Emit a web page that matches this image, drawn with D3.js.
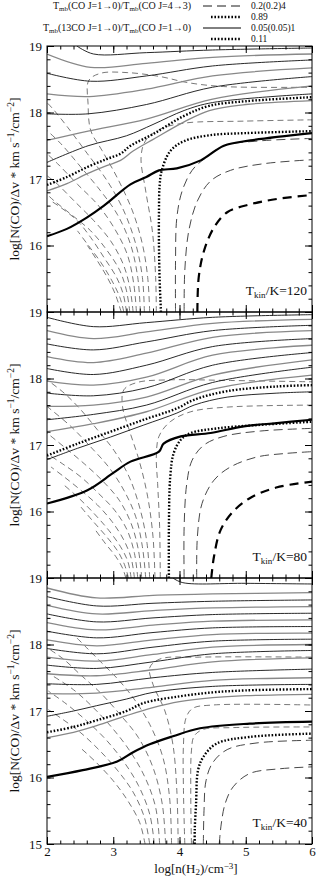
<!DOCTYPE html>
<html>
<head>
<meta charset="utf-8">
<script src="https://cdn.jsdelivr.net/npm/d3@7"></script>
<style>
  body { margin: 0; background: #fff; }
  svg { display: block; }
  text { font-family: "Liberation Serif", "DejaVu Serif", serif; fill: #111; }
</style>
</head>
<body>
<svg id="chart"></svg>
<script>
// axis values
const xTicks = [2, 3, 4, 5, 6];
const yTicks = [15, 16, 17, 18, 19];
const temps = ['120', '80', '40'];

// ---- T_kin = 120 K ----
// 13CO/CO solid contours, top to bottom
const t120Solid = [
  [[2.45,19.0],[2.7,18.88],[3.5,18.9],[4.5,18.94],[6,18.97]],
  [[2,18.88],[2.66,18.68],[3.5,18.74],[4.5,18.83],[6,18.88]],
  [[2,18.59],[2.66,18.47],[3.5,18.55],[4.5,18.7],[6,18.79]],
  [[2,18.28],[2.64,18.24],[3.5,18.35],[4.5,18.55],[6,18.67]],
  [[2,17.98],[2.62,17.98],[3.5,18.12],[4.5,18.38],[6,18.54]],
  [[2,17.58],[2.62,17.72],[3.5,17.9],[4.5,18.2],[6,18.4]],
  [[2,17.25],[2.62,17.5],[3.2,17.65],[3.6,17.82],[4.07,18.03],[4.5,18.15],[6,18.28]],
  [[2,16.82],[2.3,16.93],[2.61,17.08],[2.9,17.2],[3.11,17.28],[3.3,17.42],[3.61,17.6],[4.07,17.86],[4.45,18.03],[5.0,18.12],[6,18.18]]
];
const t120Dot11 = [[2.0,16.91],[2.3,17.03],[2.61,17.18],[2.9,17.3],[3.11,17.38],[3.26,17.5],[3.61,17.68],[4.07,17.95],[4.45,18.1],[5.0,18.17],[6,18.23]];
const t120Bold = [[2,16.14],[2.3,16.25],[2.6,16.42],[2.86,16.6],[3.26,16.92],[3.5,17.03],[3.69,17.13],[3.96,17.16],[4.32,17.28],[4.67,17.5],[5.07,17.58],[6,17.69]];
// CO(1-0)/CO(4-3) contours
const t120Dot89 = [[3.72,15.0],[3.7,15.5],[3.69,16.0],[3.69,16.5],[3.7,16.9],[3.73,17.12],[3.86,17.42],[4.07,17.57],[4.47,17.66],[5.0,17.69],[6,17.72]];
const t120Fan = [
  [[3.65,15.0],[3.64,15.52],[3.59,16.22],[3.49,16.82],[3.42,17.33],[3.49,17.58],[3.71,17.75],[4.07,17.84],[4.97,17.87],[6,17.89]],
  [[3.55,15.0],[3.52,15.52],[3.44,16.02],[3.29,16.52],[3.06,17.02],[2.83,17.43],[2.66,17.73],[2.62,18.13],[2.63,18.48],[2.81,18.59],[3.21,18.6],[3.71,18.54],[4.12,18.45],[4.67,18.39],[6,18.38]],
  [[3.47,15.0],[3.44,15.52],[3.34,16.02],[3.16,16.52],[2.91,16.97],[2.61,17.38],[2.31,17.78],[2.11,18.03],[2.0,18.15]],
  [[3.41,15.0],[3.37,15.52],[3.26,16.02],[3.06,16.47],[2.81,16.82],[2.51,17.18],[2.21,17.53],[2.0,17.73]],
  [[3.35,15.0],[3.31,15.42],[3.21,15.87],[3.01,16.27],[2.76,16.62],[2.46,16.92],[2.16,17.23],[2.0,17.38]],
  [[3.3,15.0],[3.25,15.37],[3.15,15.72],[2.96,16.07],[2.71,16.37],[2.41,16.67],[2.16,16.92],[2.0,17.05]],
  [[3.25,15.0],[3.2,15.32],[3.1,15.62],[2.91,15.92],[2.66,16.22],[2.36,16.47],[2.11,16.67],[2.0,16.77]],
  [[3.2,15.0],[3.15,15.27],[3.05,15.52],[2.86,15.82],[2.66,16.12],[2.46,16.37],[2.21,16.57],[2.06,16.67]],
  [[3.16,15.0],[3.1,15.22],[2.98,15.47],[2.81,15.75],[2.61,16.02],[2.46,16.22]],
  [[3.12,15.0],[3.03,15.27],[2.91,15.52],[2.76,15.77],[2.61,16.0]]
];
const t120Low = [
  [[3.94,15.0],[3.94,15.77],[3.96,16.42],[4.04,16.82],[4.19,17.13],[4.37,17.3],[4.67,17.5],[5.17,17.57],[6,17.61]],
  [[4.07,15.0],[4.08,15.62],[4.14,16.22],[4.27,16.67],[4.47,16.97],[4.77,17.13],[5.27,17.23],[6,17.29]]
];
const t120BoldDash = [[4.27,15.0],[4.29,15.52],[4.37,15.92],[4.52,16.27],[4.72,16.5],[5.07,16.62],[5.47,16.7],[6,16.76]];

// ---- T_kin = 80 K ----
const t80Solid = [
  [[2,18.92],[2.7,18.78],[3.5,18.84],[4.5,18.92],[6,18.96]],
  [[2,18.72],[2.7,18.6],[3.5,18.7],[4.5,18.83],[6,18.89]],
  [[2,18.52],[2.7,18.43],[3.5,18.55],[4.5,18.72],[6,18.8]],
  [[2,18.33],[2.7,18.24],[3.5,18.38],[4.5,18.62],[6,18.72]],
  [[2,18.15],[2.7,18.06],[3.5,18.2],[4.5,18.48],[6,18.6]],
  [[2,17.96],[2.7,17.9],[3.5,18.02],[4.5,18.35],[6,18.5]],
  [[2,17.78],[2.7,17.74],[3.5,17.86],[4.5,18.2],[6,18.39]],
  [[2,17.58],[2.7,17.6],[3.5,17.72],[4.5,18.05],[6,18.28]],
  [[2,17.38],[2.7,17.46],[3.5,17.6],[4.5,17.94],[6,18.17]],
  [[2,17.2],[2.7,17.32],[3.5,17.5],[4.5,17.84],[6,18.05]],
  [[2,16.78],[2.46,16.95],[2.96,17.12],[3.46,17.3],[3.96,17.48],[4.22,17.6],[4.72,17.72],[5.47,17.78],[6,17.8]]
];
const t80Dot11 = [[2.0,16.84],[2.46,17.02],[2.96,17.2],[3.46,17.38],[3.96,17.55],[4.22,17.68],[4.72,17.81],[5.47,17.88],[6,17.9]];
const t80Bold = [[2.0,16.12],[2.61,16.32],[3.0,16.58],[3.26,16.75],[3.69,16.9],[3.76,17.02],[4.02,17.13],[4.47,17.18],[4.97,17.28],[5.47,17.33],[6,17.38]];
const t80Dot89 = [[3.84,15.0],[3.84,15.77],[3.86,16.52],[3.91,16.87],[4.02,17.08],[4.17,17.18],[4.57,17.25],[5.17,17.3],[6,17.35]];
const t80Fan = [
  [[3.71,15.0],[3.7,15.77],[3.67,16.42],[3.65,16.82],[3.69,17.13],[3.86,17.35],[4.17,17.5],[4.72,17.57],[6,17.6]],
  [[3.63,15.0],[3.6,15.62],[3.52,16.22],[3.39,16.77],[3.24,17.23],[3.14,17.58],[3.16,17.83],[3.36,17.94],[3.86,17.98],[4.77,17.97],[6,17.95]],
  [[3.55,15.0],[3.51,15.52],[3.41,16.02],[3.24,16.52],[3.01,16.92],[2.76,17.23],[2.51,17.53],[2.26,17.78],[2.0,17.98]],
  [[3.49,15.0],[3.44,15.47],[3.34,15.92],[3.16,16.32],[2.93,16.67],[2.66,16.97],[2.36,17.28],[2.0,17.58]],
  [[3.43,15.0],[3.38,15.42],[3.27,15.82],[3.09,16.17],[2.83,16.47],[2.56,16.72],[2.26,16.97],[2.0,17.18]],
  [[3.37,15.0],[3.32,15.37],[3.21,15.72],[3.02,16.02],[2.78,16.27],[2.51,16.52],[2.23,16.72],[2.0,16.87]],
  [[3.32,15.0],[3.27,15.3],[3.16,15.57],[2.98,15.85],[2.76,16.1],[2.51,16.32],[2.26,16.52],[2.06,16.67]],
  [[3.27,15.0],[3.22,15.25],[3.11,15.47],[2.93,15.72],[2.71,15.97],[2.46,16.22],[2.23,16.42]],
  [[3.23,15.0],[3.17,15.2],[3.07,15.4],[2.9,15.62],[2.68,15.87],[2.51,16.07]],
  [[3.19,15.0],[3.14,15.15],[3.04,15.32],[2.88,15.52],[2.71,15.75]]
];
const t80Low = [
  [[4.07,15.0],[4.07,15.77],[4.11,16.42],[4.19,16.77],[4.37,17.0],[4.67,17.13],[5.22,17.21],[6,17.25]],
  [[4.26,15.0],[4.27,15.62],[4.34,16.12],[4.52,16.47],[4.77,16.67],[5.17,16.82],[5.57,16.87],[6,16.9]]
];
const t80BoldDash = [[4.48,15.0],[4.52,15.32],[4.62,15.72],[4.81,16.0],[5.06,16.2],[5.46,16.36],[6,16.45]];

// ---- T_kin = 40 K ----
const t40Solid = [
  [[3.9,19.0],[4.05,18.93],[5,18.92],[6,18.91]],
  [[2,18.85],[2.75,18.7],[3.6,18.74],[4.5,18.76],[6,18.78]],
  [[2,18.72],[2.75,18.58],[3.6,18.62],[4.5,18.65],[6,18.67]],
  [[2,18.59],[2.75,18.46],[3.6,18.51],[4.5,18.55],[6,18.57]],
  [[2,18.46],[2.75,18.34],[3.6,18.4],[4.5,18.45],[6,18.47]],
  [[2,18.33],[2.75,18.22],[3.6,18.29],[4.5,18.35],[6,18.37]],
  [[2,18.2],[2.75,18.1],[3.6,18.18],[4.5,18.25],[6,18.27]],
  [[2,18.07],[2.75,17.98],[3.6,18.07],[4.5,18.15],[6,18.17]],
  [[2,17.94],[2.75,17.86],[3.6,17.96],[4.5,18.05],[6,18.08]],
  [[2,17.81],[2.75,17.75],[3.6,17.85],[4.5,17.96],[6,18.0]],
  [[2,17.69],[2.75,17.64],[3.6,17.74],[4.5,17.86],[6,17.91]],
  [[2,17.56],[2.75,17.53],[3.6,17.62],[4.5,17.74],[6,17.8]],
  [[2,17.41],[2.75,17.4],[3.6,17.5],[4.5,17.58],[6,17.63]],
  [[2,17.26],[2.75,17.27],[3.6,17.36],[4.5,17.46],[6,17.5]],
  [[2,16.92],[2.4,17.0],[2.75,17.08],[3.2,17.18],[3.6,17.28],[4.5,17.37],[6,17.4]],
  [[2,16.6],[2.4,16.68],[2.75,16.78],[3.2,16.93],[3.6,17.05],[4.0,17.14],[4.5,17.2],[5,17.23],[6,17.25]]
];
const t40Dot11 = [[2,16.68],[2.4,16.76],[2.75,16.86],[3.2,17.0],[3.46,17.12],[4.0,17.22],[4.5,17.28],[5,17.31],[6,17.33]];
const t40Bold = [[2,16.01],[2.54,16.11],[3.06,16.24],[3.3,16.38],[3.55,16.5],[3.9,16.62],[4.31,16.74],[5.06,16.81],[6,16.84]];
const t40Dot89 = [[4.23,15.0],[4.23,15.21],[4.25,15.61],[4.28,16.11],[4.36,16.31],[4.56,16.51],[5.06,16.61],[6,16.66]];
const t40Fan = [
  [[4.18,15.0],[4.17,15.8],[4.18,16.4],[4.22,16.62],[4.35,16.72],[4.8,16.75],[6,16.76]],
  [[4.08,15.0],[4.06,15.8],[4.06,16.5],[4.1,16.9],[4.2,17.04],[4.5,17.09],[6,17.09]],
  [[3.98,15.0],[3.96,15.8],[3.9,16.5],[3.78,17.0],[3.6,17.4],[3.55,17.65],[3.7,17.78],[4.3,17.81],[6,17.81]],
  [[3.88,15.0],[3.85,15.7],[3.75,16.3],[3.55,16.8],[3.3,17.2],[3.05,17.5],[2.8,17.75],[2.6,17.95],[2.45,18.1]],
  [[3.79,15.0],[3.74,15.6],[3.6,16.15],[3.38,16.6],[3.1,16.95],[2.8,17.28],[2.5,17.55],[2.25,17.78],[2.05,17.92]],
  [[3.7,15.0],[3.64,15.55],[3.48,16.0],[3.25,16.4],[2.98,16.75],[2.7,17.05],[2.4,17.32],[2.05,17.55]],
  [[3.62,15.0],[3.55,15.45],[3.38,15.88],[3.15,16.25],[2.88,16.58],[2.6,16.85],[2.3,17.1],[2.02,17.3]],
  [[3.55,15.0],[3.47,15.4],[3.3,15.78],[3.07,16.1],[2.8,16.4],[2.5,16.68],[2.2,16.9],[2.02,17.02]],
  [[3.48,15.0],[3.4,15.32],[3.22,15.65],[3.0,15.95],[2.75,16.22],[2.5,16.45]]
];
const t40Low = [
  [[4.36,15.0],[4.37,15.5],[4.4,15.95],[4.5,16.22],[4.72,16.42],[5.17,16.52],[6,16.56]],
  [[4.6,15.0],[4.63,15.3],[4.69,15.61],[4.81,15.86],[5.06,16.06],[5.5,16.13],[6,16.16]]
];
const t40BoldDash = [];

const panels = [
  { temp: temps[0], solid: t120Solid, dot11: t120Dot11, bold: t120Bold, dot89: t120Dot89, fan: t120Fan, low: t120Low, boldDash: t120BoldDash },
  { temp: temps[1], solid: t80Solid, dot11: t80Dot11, bold: t80Bold, dot89: t80Dot89, fan: t80Fan, low: t80Low, boldDash: t80BoldDash },
  { temp: temps[2], solid: t40Solid, dot11: t40Dot11, bold: t40Bold, dot89: t40Dot89, fan: t40Fan, low: t40Low, boldDash: t40BoldDash }
];

const width = 316;
const height = 876;
const left = 47, right = 312, top0 = 46, panelH = 266;

const svg = d3.select('#chart')
  .attr('width', width)
  .attr('height', height)
  .attr('viewBox', [0, 0, width, height]);

const x = d3.scaleLinear().domain([2, 6]).range([left, right]);
const minorX = d3.range(2, 6.001, 0.2);
const minorY = d3.range(15, 19.001, 0.2);

const drawPanel = function (p, i) {
  const top = top0 + i * panelH;
  const y = d3.scaleLinear().domain([15, 19]).range([top + panelH, top]);
  const line = d3.line()
    .x(d => x(d[0]))
    .y(d => y(d[1]))
    .curve(d3.curveCatmullRom.alpha(0.5));

  svg.append('clipPath').attr('id', `clip${i}`)
    .append('rect')
    .attr('x', left).attr('y', top)
    .attr('width', right - left).attr('height', panelH);

  const g = svg.append('g').attr('clip-path', `url(#clip${i})`);

  // dashed fan (ratio > 0.89)
  g.selectAll('.fan').data(p.fan).join('path')
    .attr('class', 'fan')
    .attr('d', line)
    .attr('fill', 'none')
    .attr('stroke', '#555')
    .attr('stroke-width', 0.8)
    .attr('stroke-dasharray', '6,4');

  g.selectAll('.low').data(p.low).join('path')
    .attr('class', 'low')
    .attr('d', line)
    .attr('fill', 'none')
    .attr('stroke', '#333')
    .attr('stroke-width', 0.9)
    .attr('stroke-dasharray', '9,5');

  if (p.boldDash.length) {
    g.append('path')
      .attr('d', line(p.boldDash))
      .attr('fill', 'none')
      .attr('stroke', '#000')
      .attr('stroke-width', 2.2)
      .attr('stroke-dasharray', '9,6');
  }

  g.selectAll('.solid').data(p.solid).join('path')
    .attr('class', 'solid')
    .attr('d', line)
    .attr('fill', 'none')
    .attr('stroke', (d, k) => k % 2 ? '#888' : '#111')
    .attr('stroke-width', (d, k) => k % 2 ? 1.3 : 0.9);

  g.append('path')
    .attr('d', line(p.bold))
    .attr('fill', 'none')
    .attr('stroke', '#000')
    .attr('stroke-width', 2.2);

  [p.dot11, p.dot89].forEach(function (d) {
    g.append('path')
      .attr('d', line(d))
      .attr('fill', 'none')
      .attr('stroke', '#000')
      .attr('stroke-width', 2.4)
      .attr('stroke-dasharray', '1.6,1.8');
  });

  // frame and ticks
  svg.append('rect')
    .attr('x', left).attr('y', top)
    .attr('width', right - left).attr('height', panelH)
    .attr('fill', 'none').attr('stroke', '#000').attr('stroke-width', 1);

  const tickSets = [
    [d3.axisBottom(x).tickValues(minorX).tickSize(-3.5), `translate(0,${top + panelH})`],
    [d3.axisBottom(x).tickValues(xTicks).tickSize(-7), `translate(0,${top + panelH})`],
    [d3.axisTop(x).tickValues(minorX).tickSize(-3.5), `translate(0,${top})`],
    [d3.axisTop(x).tickValues(xTicks).tickSize(-7), `translate(0,${top})`],
    [d3.axisLeft(y).tickValues(minorY).tickSize(-3.5), `translate(${left},0)`],
    [d3.axisLeft(y).tickValues(yTicks).tickSize(-7), `translate(${left},0)`],
    [d3.axisRight(y).tickValues(minorY).tickSize(-3.5), `translate(${right},0)`],
    [d3.axisRight(y).tickValues(yTicks).tickSize(-7), `translate(${right},0)`]
  ];
  tickSets.forEach(function (t) {
    const a = svg.append('g').attr('transform', t[1]).call(t[0].tickFormat(''));
    a.select('.domain').remove();
    a.selectAll('line').attr('stroke', '#000');
  });

  // y tick labels
  const ylab = svg.append('g')
    .attr('transform', `translate(${left},0)`)
    .call(d3.axisLeft(y)
      .tickValues(i === 2 ? yTicks : yTicks.slice(1))
      .tickSize(0).tickPadding(5).tickFormat(d3.format('d')));
  ylab.select('.domain').remove();
  ylab.attr('font-family', null).attr('font-size', 13);

  // y axis title
  const yt = svg.append('text')
    .attr('transform', `translate(19,${top + panelH / 2}) rotate(-90)`)
    .attr('text-anchor', 'middle')
    .style('font-size', '13.5px');
  yt.append('tspan').text('log[N(CO)/Δv * km s');
  yt.append('tspan').attr('dy', -5).style('font-size', '9.5px').text('−1');
  yt.append('tspan').attr('dy', 5).text('/cm');
  yt.append('tspan').attr('dy', -5).style('font-size', '9.5px').text('−2');
  yt.append('tspan').attr('dy', 5).text(']');

  // temperature label
  const tk = svg.append('text')
    .attr('x', 307).attr('y', top + panelH - 17)
    .attr('text-anchor', 'end')
    .style('font-size', '13.5px');
  tk.append('tspan').text('T');
  tk.append('tspan').attr('dy', 3).style('font-size', '9px').text('kin');
  tk.append('tspan').attr('dy', -3).text(`/K=${p.temp}`);
};

panels.forEach(drawPanel);

// x tick labels and title under the last panel
const bottom = top0 + 3 * panelH;
const xl = svg.append('g')
  .attr('transform', `translate(0,${bottom})`)
  .call(d3.axisBottom(x).tickValues(xTicks).tickSize(0).tickPadding(3).tickFormat(d3.format('d')));
xl.select('.domain').remove();
xl.attr('font-family', null).attr('font-size', 13);

const xt = svg.append('text')
  .attr('x', 196).attr('y', 873)
  .attr('text-anchor', 'middle')
  .style('font-size', '13px');
xt.append('tspan').text('log[n(H');
xt.append('tspan').attr('dy', 2).style('font-size', '9px').text('2');
xt.append('tspan').attr('dy', -2).text(')/cm');
xt.append('tspan').attr('dy', -4).style('font-size', '9px').text('−3');
xt.append('tspan').attr('dy', 4).text(']');

// legend
const legendRows = [
  { label: ['T', 'mb', '(CO J=1→0)/T', 'mb', '(CO J=4→3)'], style: 'dash', value: '0.2(0.2)4', y: 9 },
  { label: null, style: 'dot', value: '0.89', y: 20 },
  { label: ['T', 'mb', '(13CO J=1→0)/T', 'mb', '(CO J=1→0)'], style: 'solid', value: '0.05(0.05)1', y: 31 },
  { label: null, style: 'dot', value: '0.11', y: 42 }
];
legendRows.forEach(function (r) {
  if (r.label) {
    const t = svg.append('text')
      .attr('x', 191).attr('y', r.y)
      .attr('text-anchor', 'end')
      .style('font-size', '10px');
    r.label.forEach(function (s, k) {
      const ts = t.append('tspan').text(s);
      if (k % 2) ts.attr('dy', 2).style('font-size', '7px');
      else if (k > 0) ts.attr('dy', -2);
    });
  }
  const ls = svg.append('line')
    .attr('x1', r.style === 'dot' ? 211 : 203).attr('x2', 241)
    .attr('y1', r.y - 3).attr('y2', r.y - 3)
    .attr('stroke', '#000');
  if (r.style === 'dash') ls.attr('stroke-dasharray', '9,5').attr('stroke-width', 0.9);
  if (r.style === 'dot') ls.attr('stroke-dasharray', '1.6,1.8').attr('stroke-width', 2.4);
  if (r.style === 'solid') ls.attr('stroke-width', 1);
  svg.append('text')
    .attr('x', 251).attr('y', r.y)
    .style('font-size', '9.5px')
    .text(r.value);
});
</script>
</body>
</html>
